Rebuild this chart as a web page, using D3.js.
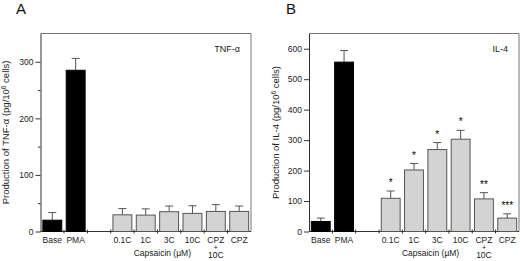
<!DOCTYPE html>
<html>
<head>
<meta charset="utf-8">
<script src="https://cdn.jsdelivr.net/npm/d3@7"></script>
<style>
  body { margin: 0; background: #fff; }
  svg { display: block; font-family: Arial, "Liberation Sans", sans-serif; }
</style>
</head>
<body>
<div id="chart"></div>
<script>
// ---- data ----
const categories = ['Base', 'PMA', '', '0.1C', '1C', '3C', '10C', 'CPZ+10C', 'CPZ'];
const tnfMean = [20, 285, null, 29.5, 29, 35, 32, 35.5, 35.5];
const tnfErr  = [13.5, 21, null, 11, 11, 10, 13.5, 12, 9.5];
const il4Mean = [33, 556, null, 109, 202, 269, 303, 107, 44];
const il4Err  = [11, 38, null, 24, 21, 23, 29, 20.5, 14];
const il4Sig  = ['', '', '', '*', '*', '*', '*', '**', '***'];
const tnfTicks = [0, 100, 200, 300];
const tnfMinor = [50, 150, 250];
const il4Ticks = [0, 100, 200, 300, 400, 500, 600];

const svg = d3.select('#chart').append('svg')
    .attr('width', 520)
    .attr('height', 261);

function drawPanel(opt) {
    const g = svg.append('g');
    const x = d3.scaleBand()
        .domain(categories)
        .range([opt.left, opt.right])
        .paddingInner(0.19)
        .paddingOuter(0.1);
    const y = d3.scaleLinear()
        .domain([0, opt.ymax])
        .range([opt.bottom, opt.top]);
    const mid = c => x(c) + x.bandwidth() / 2;

    // frame (top and right)
    g.append('path')
        .attr('d', `M${opt.left},${opt.top}H${opt.right}V${opt.bottom}`)
        .attr('fill', 'none')
        .attr('stroke', '#777')
        .attr('stroke-width', 1);

    // y axis
    const yAxis = g.append('g')
        .attr('transform', `translate(${opt.left},0)`)
        .call(d3.axisLeft(y).tickValues(opt.ticks).tickSize(5).tickPadding(2).tickSizeOuter(0));
    yAxis.select('.domain').attr('stroke', '#333');
    yAxis.selectAll('.tick line').attr('stroke', '#333');
    yAxis.selectAll('text').attr('font-size', 8.5).attr('fill', '#222');
    if (opt.minor) {
        g.append('g')
            .attr('transform', `translate(${opt.left},0)`)
            .call(d3.axisLeft(y).tickValues(opt.minor).tickSize(2.5).tickFormat(''))
            .call(s => s.select('.domain').remove())
            .selectAll('line').attr('stroke', '#333');
    }

    // bottom axis line with boundary ticks
    g.append('line')
        .attr('x1', opt.left).attr('x2', opt.right)
        .attr('y1', opt.bottom).attr('y2', opt.bottom)
        .attr('stroke', '#333');
    const step = x.step();
    const bounds = categories.slice(1).map(c => x(c) - step * x.paddingInner() / 2);
    g.selectAll('.btick')
        .data(bounds)
        .join('line')
        .attr('x1', d => d).attr('x2', d => d)
        .attr('y1', opt.bottom - 2).attr('y2', opt.bottom + 2)
        .attr('stroke', '#333');

    const rows = categories.map((c, i) => ({ c, i, v: opt.mean[i], e: opt.err[i], s: opt.sig ? opt.sig[i] : '' }))
        .filter(d => d.v != null);

    // error bars (upper only)
    const eb = g.selectAll('.err').data(rows).join('g');
    eb.append('line')
        .attr('x1', d => mid(d.c)).attr('x2', d => mid(d.c))
        .attr('y1', d => y(d.v))
        .attr('y2', d => y(d.v + d.e))
        .attr('stroke', '#555').attr('stroke-width', 1);
    eb.append('line')
        .attr('x1', d => mid(d.c) - 4)
        .attr('x2', d => mid(d.c) + 4)
        .attr('y1', d => y(d.v + d.e))
        .attr('y2', d => y(d.v + d.e))
        .attr('stroke', '#555').attr('stroke-width', 1);

    // bars
    g.selectAll('.bar').data(rows).join('rect')
        .attr('x', d => x(d.c))
        .attr('y', d => y(d.v))
        .attr('width', x.bandwidth())
        .attr('height', d => y(0) - y(d.v))
        .attr('fill', d => d.i < 2 ? '#000' : '#d3d3d3')
        .attr('stroke', d => d.i < 2 ? '#000' : '#555')
        .attr('stroke-width', 1);

    // significance stars
    g.selectAll('.sig').data(rows.filter(d => d.s)).join('text')
        .attr('x', d => mid(d.c))
        .attr('y', d => y(d.v + d.e) - 5)
        .attr('text-anchor', 'middle')
        .attr('font-size', 10)
        .attr('fill', '#000')
        .text(d => d.s);

    // category labels
    categories.forEach(c => {
        if (!c) return;
        const lines = c === 'CPZ+10C' ? ['CPZ', '+', '10C'] : [c];
        const ys = [opt.bottom + 11.5, opt.bottom + 18, opt.bottom + 26];
        lines.forEach((t, k) => {
            g.append('text')
                .attr('x', mid(c))
                .attr('y', ys[k])
                .attr('text-anchor', 'middle')
                .attr('font-size', t === '+' ? 7 : 8.5)
                .attr('fill', '#222')
                .text(t);
        });
    });
    g.append('text')
        .attr('x', mid('0.1C') + (mid('10C') - mid('0.1C')) * 0.57)
        .attr('y', opt.bottom + 24.5)
        .attr('text-anchor', 'middle')
        .attr('font-size', 8.5)
        .attr('fill', '#222')
        .text('Capsaicin (\u00b5M)');

    // y title
    const ty = g.append('text')
        .attr('transform', `translate(${opt.titleX},${(opt.top + opt.bottom) / 2}) rotate(-90)`)
        .attr('text-anchor', 'middle')
        .attr('font-size', 9.5)
        .attr('fill', '#222');
    ty.append('tspan').text(opt.yTitle + ' (pg/10');
    ty.append('tspan').attr('dy', -3).attr('font-size', 6.5).text('6');
    ty.append('tspan').attr('dy', 3).text(' cells)');

    // inset label
    g.append('text')
        .attr('x', opt.right - 11)
        .attr('y', opt.top + 18)
        .attr('text-anchor', 'end')
        .attr('font-size', 9)
        .attr('fill', '#222')
        .text(opt.inset);

    // panel letter
    g.append('text')
        .attr('x', opt.letterX)
        .attr('y', 14)
        .attr('font-size', 15)
        .attr('fill', '#111')
        .text(opt.letter);
}

drawPanel({
    left: 40.5, right: 251, top: 33.5, bottom: 231.5, ymax: 350,
    ticks: tnfTicks, minor: tnfMinor,
    mean: tnfMean, err: tnfErr, sig: null,
    yTitle: 'Production of TNF-\u03b1', inset: 'TNF-\u03b1',
    titleX: 9, letter: 'A', letterX: 16
});

drawPanel({
    left: 309, right: 519, top: 33.5, bottom: 231.5, ymax: 650,
    ticks: il4Ticks, minor: null,
    mean: il4Mean, err: il4Err, sig: il4Sig,
    yTitle: 'Production of IL-4', inset: 'IL-4',
    titleX: 279, letter: 'B', letterX: 286
});
</script>
</body>
</html>
